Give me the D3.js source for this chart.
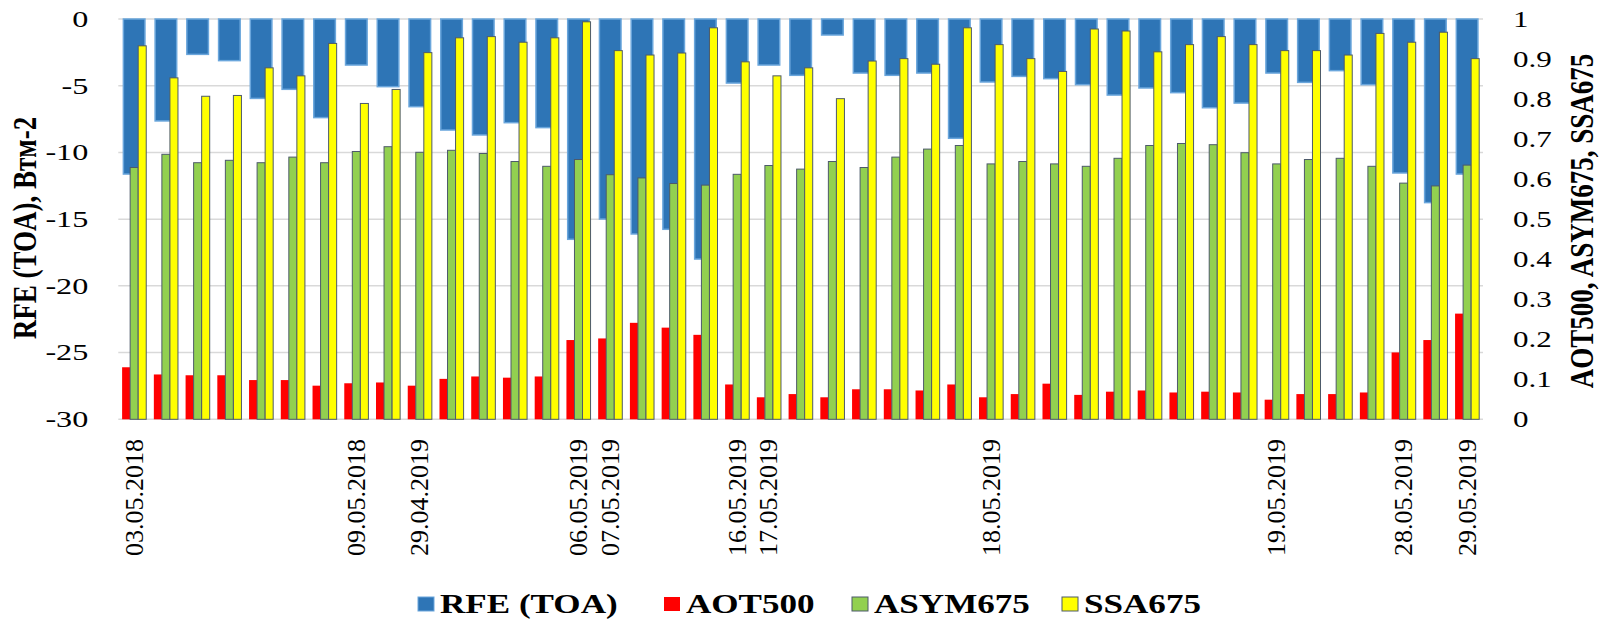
<!DOCTYPE html>
<html>
<head>
<meta charset="utf-8">
<script src="https://cdn.jsdelivr.net/npm/d3@7"></script>
<style>
  body { margin: 0; background: #fff; }
  svg text { font-family: "Liberation Serif", "Times New Roman", serif; fill: #000; }
  .tick-l { transform-box: fill-box; transform-origin: 100% 50%; transform: scaleX(1.4); }
  .tick-r { transform-box: fill-box; transform-origin: 0% 50%; transform: scaleX(1.35); }
  .leg { transform-box: fill-box; transform-origin: 0% 50%; transform: scaleX(1.3); }
</style>
</head>
<body>
<svg id="chart" width="1600" height="621"></svg>
<script>
// measurement labels (blank where the original has no label)
var categories = ["03.05.2018","","","","","","","09.05.2018","","29.04.2019",
  "","","","","06.05.2019","07.05.2019","","","","16.05.2019",
  "17.05.2019","","","","","","","18.05.2019","","",
  "","","","","","","19.05.2019","","","",
  "28.05.2019","","29.05.2019"];

var rfeToa = [-11.62,-7.64,-2.65,-3.12,-5.95,-5.27,-7.39,-3.45,-5.07,-6.57,
  -8.32,-8.69,-7.77,-8.14,-16.51,-14.99,-16.11,-15.76,-17.99,-4.80,
  -3.45,-4.22,-1.20,-4.05,-4.22,-4.05,-8.94,-4.72,-4.30,-4.47,
  -4.92,-5.70,-5.17,-5.52,-6.65,-6.30,-4.05,-4.75,-3.87,-4.92,
  -11.54,-13.76,-11.62];

var aot500 = [0.130,0.112,0.110,0.110,0.098,0.098,0.084,0.090,0.092,0.084,
  0.101,0.107,0.104,0.107,0.198,0.202,0.241,0.229,0.211,0.087,
  0.055,0.063,0.055,0.075,0.075,0.072,0.087,0.055,0.063,0.089,
  0.061,0.069,0.072,0.067,0.069,0.067,0.049,0.063,0.063,0.067,
  0.167,0.198,0.264];

var asym675 = [0.629,0.662,0.641,0.647,0.641,0.655,0.641,0.669,0.681,0.667,
  0.672,0.664,0.644,0.632,0.649,0.611,0.603,0.589,0.585,0.612,
  0.634,0.625,0.644,0.629,0.655,0.675,0.684,0.638,0.644,0.638,
  0.632,0.652,0.684,0.689,0.686,0.666,0.638,0.649,0.652,0.632,
  0.590,0.583,0.635];

var ssa675 = [0.933,0.853,0.807,0.809,0.878,0.858,0.939,0.789,0.824,0.916,
  0.953,0.956,0.942,0.953,0.993,0.921,0.910,0.915,0.978,0.893,
  0.858,0.878,0.801,0.895,0.901,0.887,0.978,0.936,0.901,0.869,
  0.975,0.970,0.918,0.936,0.956,0.936,0.921,0.921,0.910,0.964,
  0.942,0.967,0.901];

var leftTicks = [0,-5,-10,-15,-20,-25,-30];
var rightTicks = [0,0.1,0.2,0.3,0.4,0.5,0.6,0.7,0.8,0.9,1];

var seriesNames = ["RFE (TOA)", "AOT500", "ASYM675", "SSA675"];
var colors = {"RFE (TOA)": "#2e75b6", "AOT500": "#ff0000", "ASYM675": "#92d050", "SSA675": "#ffff00"};

var serif = "'Liberation Serif', 'Times New Roman', serif";
var svg = d3.select("#chart");
var plotL = 118.3, plotR = 1483, plotT = 19, plotB = 419.3;

var x = d3.scaleBand().domain(d3.range(categories.length)).range([plotL, plotR]).padding(0);
var bw = x.bandwidth();
var y1 = d3.scaleLinear().domain([-30, 0]).range([plotB, plotT]);
var y2 = d3.scaleLinear().domain([0, 1]).range([plotB, plotT]);

// secondary cluster inside each category
var sec = d3.scaleBand().domain(["AOT500","ASYM675","SSA675"]).range([bw * 0.12, bw * 0.88]).padding(0);

// gridlines
svg.append("g").selectAll("line").data(leftTicks).join("line")
  .attr("x1", plotL).attr("x2", plotR)
  .attr("y1", function(d){ return y1(d); }).attr("y2", function(d){ return y1(d); })
  .attr("stroke", "#d9d9d9").attr("stroke-width", 1.5);

// RFE bars (primary axis, hang down from 0)
svg.append("g").selectAll("rect").data(rfeToa).join("rect")
  .attr("x", function(d, i){ return x(i) + bw * 0.16; })
  .attr("y", y1(0))
  .attr("width", bw * 0.68)
  .attr("height", function(d){ return y1(d) - y1(0); })
  .attr("fill", colors["RFE (TOA)"])
  .attr("stroke", "#6aa6dc").attr("stroke-width", 1.5);

function secBars(values, name, stroke) {
  svg.append("g").selectAll("rect").data(values).join("rect")
    .attr("x", function(d, i){ return x(i) + sec(name); })
    .attr("y", function(d){ return y2(d); })
    .attr("width", sec.bandwidth())
    .attr("height", function(d){ return y2(0) - y2(d); })
    .attr("fill", colors[name])
    .attr("stroke", stroke ? "#4d5a6a" : "none")
    .attr("stroke-width", 1);
}
secBars(aot500, "AOT500", false);
secBars(asym675, "ASYM675", true);
secBars(ssa675, "SSA675", true);

// left axis (plain hyphen minus like the original)
var gl = svg.append("g").attr("transform", "translate(" + plotL + ",0)")
  .call(d3.axisLeft(y1).tickValues(leftTicks).tickSize(0).tickPadding(30)
    .tickFormat(function(d){ return String(d); }));
gl.select(".domain").remove();
gl.selectAll("text").attr("class", "tick-l").style("font-size", "23px")
  .style("font-family", serif).attr("fill", "#000");

// right axis
var gr = svg.append("g").attr("transform", "translate(" + plotR + ",0)")
  .call(d3.axisRight(y2).tickValues(rightTicks).tickSize(0).tickPadding(30)
    .tickFormat(function(d){ return String(+d.toFixed(1)); }));
gr.select(".domain").remove();
gr.selectAll("text").attr("class", "tick-r").style("font-size", "23px")
  .style("font-family", serif).attr("fill", "#000");

// category labels, rotated
svg.append("g").selectAll("text").data(categories).join("text")
  .attr("transform", function(d, i){ return "translate(" + (x(i) + bw / 2) + ",439) rotate(-90)"; })
  .attr("text-anchor", "end")
  .attr("dominant-baseline", "central")
  .style("font-family", serif)
  .style("font-size", "26px")
  .text(function(d){ return d; });

// axis titles
svg.append("text")
  .attr("transform", "translate(25,228) rotate(-90) scale(1,1.25)")
  .attr("text-anchor", "middle").attr("dominant-baseline", "central")
  .style("font-family", serif)
  .style("font-size", "27px").style("font-weight", "bold")
  .text("RFE (TOA), Втм-2");

svg.append("text")
  .attr("transform", "translate(1582,221) rotate(-90) scale(1,1.25)")
  .attr("text-anchor", "middle").attr("dominant-baseline", "central")
  .style("font-family", serif)
  .style("font-size", "27px").style("font-weight", "bold")
  .text("AOT500, ASYM675, SSA675");

// legend
var legX = [418, 664, 852, 1062];
var leg = svg.append("g").selectAll("g").data(seriesNames).join("g")
  .attr("transform", function(d, i){ return "translate(" + legX[i] + ",604)"; });
leg.append("rect")
  .attr("x", 0).attr("y", -7).attr("width", 16).attr("height", 14)
  .attr("fill", function(d){ return colors[d]; })
  .attr("stroke", function(d){ return d === "AOT500" ? "none" : (d === "RFE (TOA)" ? "#6aa6dc" : "#4d5a6a"); })
  .attr("stroke-width", 1);
leg.append("text")
  .attr("class", "leg")
  .attr("x", 22).attr("y", 0)
  .attr("dominant-baseline", "central")
  .style("font-family", serif)
  .style("font-size", "27px").style("font-weight", "bold")
  .text(function(d){ return d; });
</script>
</body>
</html>
